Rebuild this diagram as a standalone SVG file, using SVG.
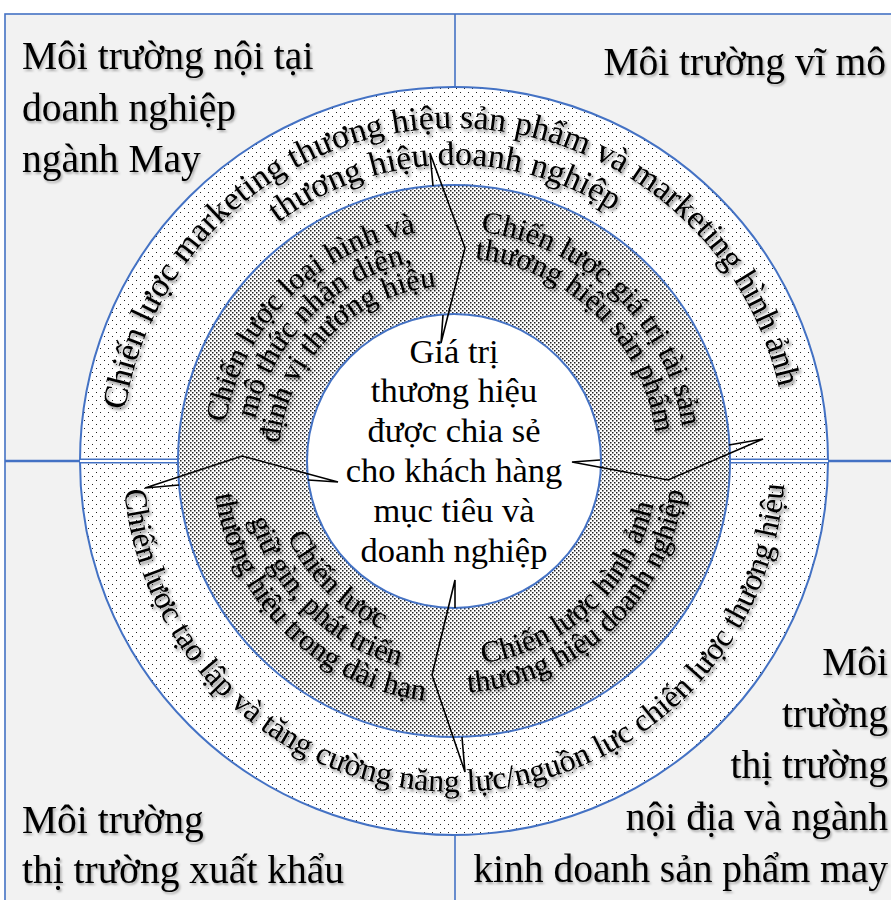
<svg xmlns="http://www.w3.org/2000/svg" width="891" height="900" viewBox="0 0 891 900">
  <defs>
    <style>
      .lbl { font-family: "Liberation Serif", "Times New Roman", serif; fill: #000; }
      .quad { font-size: 39.5px; filter: url(#softShadow); }
      .core { font-size: 34.5px; text-anchor: middle; }
      .ringTxt { filter: url(#ringShadow); }
      .outerTxt { font-size: 34px; }
      .outerBot { font-size: 32px; }
      .midTxt { font-size: 30.5px; }
      .edge { stroke: #4472c4; stroke-width: 2; }
      .div { stroke: #4472c4; stroke-width: 1.6; fill: none; }
      .bolt { fill: none; stroke: #000; stroke-width: 1.6; stroke-linejoin: miter; }
    </style>
    <filter id="softShadow" x="-5%" y="-20%" width="115%" height="150%">
      <feDropShadow dx="1.5" dy="2" stdDeviation="1.2" flood-color="#000" flood-opacity="0.3"/>
    </filter>
    <filter id="ringShadow" x="-10%" y="-10%" width="125%" height="125%">
      <feDropShadow dx="2" dy="2.5" stdDeviation="1.8" flood-color="#000" flood-opacity="0.45"/>
    </filter>
    <!-- light dot screen for the outer ring -->
    <pattern id="dotsLight" width="8" height="8" patternUnits="userSpaceOnUse">
      <rect width="8" height="8" fill="#fff"/>
      <rect x="0" y="0" width="1" height="1" fill="#222"/>
      <rect x="4" y="4" width="1" height="1" fill="#222"/>
    </pattern>
    <!-- denser dot screen for the middle ring -->
    <pattern id="dotsDense" width="4" height="4" patternUnits="userSpaceOnUse">
      <rect width="4" height="4" fill="#fff"/>
      <rect x="0" y="0" width="1.5" height="1.5" fill="#222"/>
      <rect x="2" y="2" width="1.5" height="1.5" fill="#222"/>
    </pattern>
    <!-- text arcs, centre (454,461) -->
    <path id="arcOuter1" d="M128.3,530.2 A333,333 0 1 1 783.8,507.3"/>
    <path id="arcOuter2" d="M164.5,522.5 A296,296 0 1 1 747.1,502.2"/>
    <path id="arcOuterB" d="M127.5,406.4 A331,331 0 1 0 779.5,400.7"/>
    <path id="arcTL1" d="M277.0,609.5 A231,231 0 0 1 602.5,284.0"/>
    <path id="arcTL2" d="M298.5,591.5 A203,203 0 0 1 584.5,305.5"/>
    <path id="arcTL3" d="M319.9,573.5 A175,175 0 0 1 566.5,326.9"/>
    <path id="arcTR1" d="M302.5,286.7 A231,231 0 0 1 633.5,606.4"/>
    <path id="arcTR2" d="M320.8,307.8 A203,203 0 0 1 611.8,588.8"/>
    <path id="arcBL1" d="M312.8,344.6 A183,183 0 0 0 572.8,600.2"/>
    <path id="arcBL2" d="M290.4,326.2 A212,212 0 0 0 591.7,622.2"/>
    <path id="arcBL3" d="M268.0,307.7 A241,241 0 0 0 610.5,644.3"/>
    <path id="arcBR1" d="M317.5,612.6 A204,204 0 0 0 614.8,335.4"/>
    <path id="arcBR2" d="M298.8,633.4 A232,232 0 0 0 636.8,318.2"/>
  </defs>

  <!-- page and frame -->
  <rect width="891" height="900" fill="#fff"/>
  <rect x="5" y="14" width="910" height="910" fill="#f2f2f2" stroke="#4472c4" stroke-width="1.6"/>

  <!-- quadrant dividers -->
  <g id="dividers">
    <line class="div" x1="455" y1="14" x2="455" y2="88"/>
    <line class="div" x1="455" y1="832" x2="455" y2="900"/>
    <line x1="5" y1="461" x2="82" y2="461" stroke="#4472c4" stroke-width="2.6"/>
    <line x1="826" y1="461" x2="891" y2="461" stroke="#4472c4" stroke-width="2.6"/>
  </g>

  <!-- quadrant labels -->
  <g id="q-internal" class="lbl quad">
    <text x="22" y="69">Môi trường nội tại</text>
    <text x="22" y="121">doanh nghiệp</text>
    <text x="22" y="172">ngành May</text>
  </g>
  <g id="q-macro" class="lbl quad" text-anchor="end">
    <text x="886" y="75">Môi trường vĩ mô</text>
  </g>
  <g id="q-export" class="lbl quad">
    <text x="22" y="833">Môi trường</text>
    <text x="22" y="883">thị trường xuất khẩu</text>
  </g>
  <g id="q-domestic" class="lbl quad" text-anchor="end">
    <text x="888" y="675">Môi</text>
    <text x="888" y="727">trường</text>
    <text x="888" y="778">thị trường</text>
    <text x="888" y="830">nội địa và ngành</text>
    <text x="888" y="882">kinh doanh sản phẩm may</text>
  </g>

  <!-- outer ring: marketing / capability strategies -->
  <g id="ring-outer">
    <circle cx="454" cy="461" r="374" fill="url(#dotsLight)" class="edge"/>
    <rect x="80" y="459.5" width="98" height="3" fill="#fff"/>
    <rect x="729" y="459.5" width="99" height="3" fill="#fff"/>
    <line class="div" x1="80" y1="459.3" x2="178" y2="459.3" stroke-width="1.3"/>
    <line class="div" x1="80" y1="462.7" x2="178" y2="462.7" stroke-width="1.3"/>
    <line class="div" x1="729" y1="459.3" x2="828" y2="459.3" stroke-width="1.3"/>
    <line class="div" x1="729" y1="462.7" x2="828" y2="462.7" stroke-width="1.3"/>
  </g>

  <!-- middle ring: brand strategies -->
  <g id="ring-middle">
    <circle cx="454" cy="461" r="276" fill="url(#dotsDense)" class="edge"/>
  </g>

  <!-- core -->
  <g id="core">
    <circle cx="454" cy="461" r="147" fill="#fff" class="edge"/>
  </g>

  <!-- lightning connectors between the layers -->
  <g id="connectors">
    <polyline class="bolt" points="433,186 430,153 465,248 441,343 443,315"/>
    <polyline class="bolt" points="600,460 572,462 668,480 763,439 729,445"/>
    <polyline class="bolt" points="308,480 338,482 242,456 145,488 179,485"/>
    <polyline class="bolt" points="455,608 455,580 432,675 465,772 462,737"/>
  </g>

  <!-- ring texts -->
  <g id="outer-texts" class="lbl ringTxt">
    <text class="outerTxt" text-anchor="middle"><textPath href="#arcOuter1" startOffset="50%">Chiến lược marketing thương hiệu sản phẩm và marketing hình ảnh</textPath></text>
    <text class="outerTxt" text-anchor="middle"><textPath href="#arcOuter2" startOffset="50%">thương hiệu doanh nghiệp</textPath></text>
    <text class="outerBot" text-anchor="middle"><textPath href="#arcOuterB" startOffset="50%">Chiến lược tạo lập và tăng cường năng lực/nguồn lực chiến lược thương hiệu</textPath></text>
  </g>
  <g id="mid-identity" class="lbl ringTxt midTxt" text-anchor="middle">
    <text><textPath href="#arcTL1" startOffset="50%">Chiến lược loại hình và</textPath></text>
    <text><textPath href="#arcTL2" startOffset="50%">mô thức nhận diện,</textPath></text>
    <text><textPath href="#arcTL3" startOffset="50%">định vị thương hiệu</textPath></text>
  </g>
  <g id="mid-equity" class="lbl ringTxt midTxt" text-anchor="middle">
    <text><textPath href="#arcTR1" startOffset="50%">Chiến lược giá trị tài sản</textPath></text>
    <text><textPath href="#arcTR2" startOffset="50%">thương hiệu sản phẩm</textPath></text>
  </g>
  <g id="mid-longterm" class="lbl ringTxt midTxt" text-anchor="middle">
    <text><textPath href="#arcBL1" startOffset="50%">Chiến lược</textPath></text>
    <text><textPath href="#arcBL2" startOffset="50%">giữ gìn, phát triển</textPath></text>
    <text><textPath href="#arcBL3" startOffset="50%">thương hiệu trong dài hạn</textPath></text>
  </g>
  <g id="mid-image" class="lbl ringTxt midTxt" text-anchor="middle">
    <text><textPath href="#arcBR1" startOffset="50%">Chiến lược hình ảnh</textPath></text>
    <text><textPath href="#arcBR2" startOffset="50%">thương hiệu doanh nghiệp</textPath></text>
  </g>

  <!-- core text -->
  <g id="core-text" class="lbl core">
    <text x="454" y="363">Giá trị</text>
    <text x="454" y="402">thương hiệu</text>
    <text x="454" y="442">được chia sẻ</text>
    <text x="454" y="482">cho khách hàng</text>
    <text x="454" y="522">mục tiêu và</text>
    <text x="454" y="562">doanh nghiệp</text>
  </g>
</svg>
